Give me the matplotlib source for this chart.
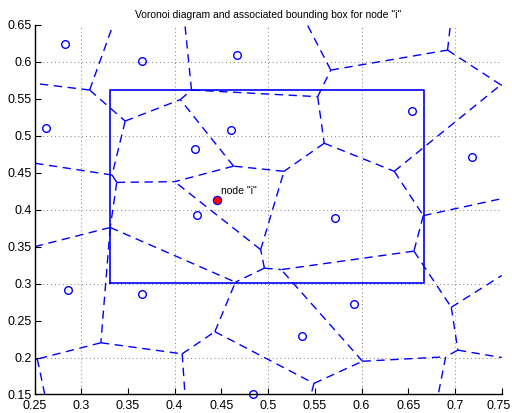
import matplotlib
matplotlib.use('Agg')
import matplotlib.pyplot as plt
import matplotlib.transforms as mtransforms
import numpy as np

plt.rcParams['font.family'] = ['Liberation Sans', 'DejaVu Sans']

# sites (open circles) and the node of interest
site_x = [0.283, 0.365, 0.467, 0.262, 0.654, 0.460, 0.422, 0.718, 0.424,
          0.572, 0.286, 0.365, 0.592, 0.536, 0.484]
site_y = [0.624, 0.601, 0.610, 0.511, 0.533, 0.508, 0.482, 0.472, 0.393,
          0.389, 0.291, 0.286, 0.273, 0.229, 0.151]
node_x, node_y = 0.445, 0.413

# voronoi vertices (edge ends sit on the axes border)
vert_x = [0.309, 0.250, 0.334, 0.347, 0.406, 0.333, 0.250, 0.338, 0.400, 0.331,
          0.250, 0.465, 0.321, 0.253, 0.261, 0.240, 0.408, 0.411, 0.443, 0.549,
          0.546, 0.601, 0.496, 0.514, 0.492, 0.517, 0.463, 0.560, 0.635, 0.553,
          0.418, 0.411, 0.567, 0.542, 0.692, 0.695, 0.749, 0.760, 0.666, 0.750,
          0.656, 0.696, 0.750, 0.703, 0.750, 0.690, 0.682]
vert_y = [0.562, 0.571, 0.650, 0.520, 0.549, 0.447, 0.463, 0.437, 0.438, 0.376,
          0.350, 0.302, 0.220, 0.198, 0.150, 0.196, 0.205, 0.150, 0.235, 0.165,
          0.150, 0.195, 0.321, 0.319, 0.346, 0.452, 0.459, 0.490, 0.452, 0.553,
          0.562, 0.650, 0.589, 0.650, 0.616, 0.650, 0.569, 0.566, 0.392, 0.415,
          0.344, 0.268, 0.311, 0.210, 0.200, 0.201, 0.150]
edges = [(0, 1), (0, 2), (0, 3), (3, 4), (3, 5), (5, 6), (5, 7), (7, 8), (7, 9),
         (9, 10), (9, 12), (9, 11), (12, 13), (13, 14), (13, 15), (12, 16),
         (16, 17), (16, 18), (18, 11), (18, 19), (19, 20), (19, 21), (21, 23),
         (21, 45), (22, 11), (22, 23), (22, 24), (24, 8), (24, 25), (25, 26),
         (26, 8), (26, 4), (4, 30), (30, 31), (30, 29), (29, 27), (27, 25),
         (27, 28), (29, 32), (32, 33), (32, 34), (34, 35), (34, 36), (36, 37),
         (28, 36), (28, 38), (38, 39), (38, 40), (40, 23), (40, 41), (41, 42),
         (41, 43), (43, 44), (43, 45), (45, 46)]

# bounding box of node "i"
box_x = [0.331, 0.667]
box_y = [0.301, 0.562]

xticks = [0.25, 0.3, 0.35, 0.4, 0.45, 0.5, 0.55, 0.6, 0.65, 0.7, 0.75]
yticks = [0.15, 0.2, 0.25, 0.3, 0.35, 0.4, 0.45, 0.5, 0.55, 0.6, 0.65]
xgrid = [0.3, 0.4, 0.5, 0.6, 0.7]
ygrid = [0.2, 0.3, 0.4, 0.5, 0.6]

fig = plt.figure(figsize=(5.12, 4.13), dpi=100)
ax = fig.add_axes([0.0674, 0.0448, 0.9126, 0.8947])

# grid lines only every 0.1
for g in xgrid:
    ax.axvline(g, color='#808080', lw=0.7, ls=(0, (1, 3)), zorder=0)
for g in ygrid:
    ax.axhline(g, color='#808080', lw=0.7, ls=(0, (1, 3)), zorder=0)

# voronoi edges
for a, b in edges:
    ax.plot([vert_x[a], vert_x[b]], [vert_y[a], vert_y[b]], color='blue',
            lw=1.0, ls=(0, (6, 4)), solid_capstyle='butt')

# sites
ax.plot(site_x, site_y, 'o', mfc='none', mec='blue', ms=5.5, mew=1.0, clip_on=False)
ax.plot(node_x, node_y, 'o', mfc='red', mec='blue', ms=6, mew=0.8)
ax.text(node_x + 0.005, node_y + 0.013, 'node "i"', fontsize=7.5, va='center', ha='left')

# bounding box
bx = [box_x[0], box_x[1], box_x[1], box_x[0], box_x[0]]
by = [box_y[0], box_y[0], box_y[1], box_y[1], box_y[0]]
ax.plot(bx, by, color='blue', lw=1.2)

ax.set_xlim(0.25, 0.75)
ax.set_ylim(0.15, 0.65)
ax.set_xticks(xticks)
ax.set_xticklabels([f'{t:g}' for t in xticks])
ax.set_yticks(yticks)
ax.set_yticklabels([f'{t:g}' for t in yticks])
ax.tick_params(direction='in', length=4, width=0.8, labelsize=9, pad=2)
ax.tick_params(axis='x', pad=4)
# keep the last x label inside the figure
last = ax.get_xticklabels()[-1]
last.set_transform(last.get_transform() +
                   mtransforms.ScaledTranslation(-3 / 100, 0, fig.dpi_scale_trans))
for s in ['top', 'right']:
    ax.spines[s].set_visible(False)
for s in ['left', 'bottom']:
    ax.spines[s].set_linewidth(1.0)
ax.set_title('Voronoi diagram and associated bounding box for node "i"', fontsize=7.5, pad=5)

fig.savefig('out.png', dpi=100)
